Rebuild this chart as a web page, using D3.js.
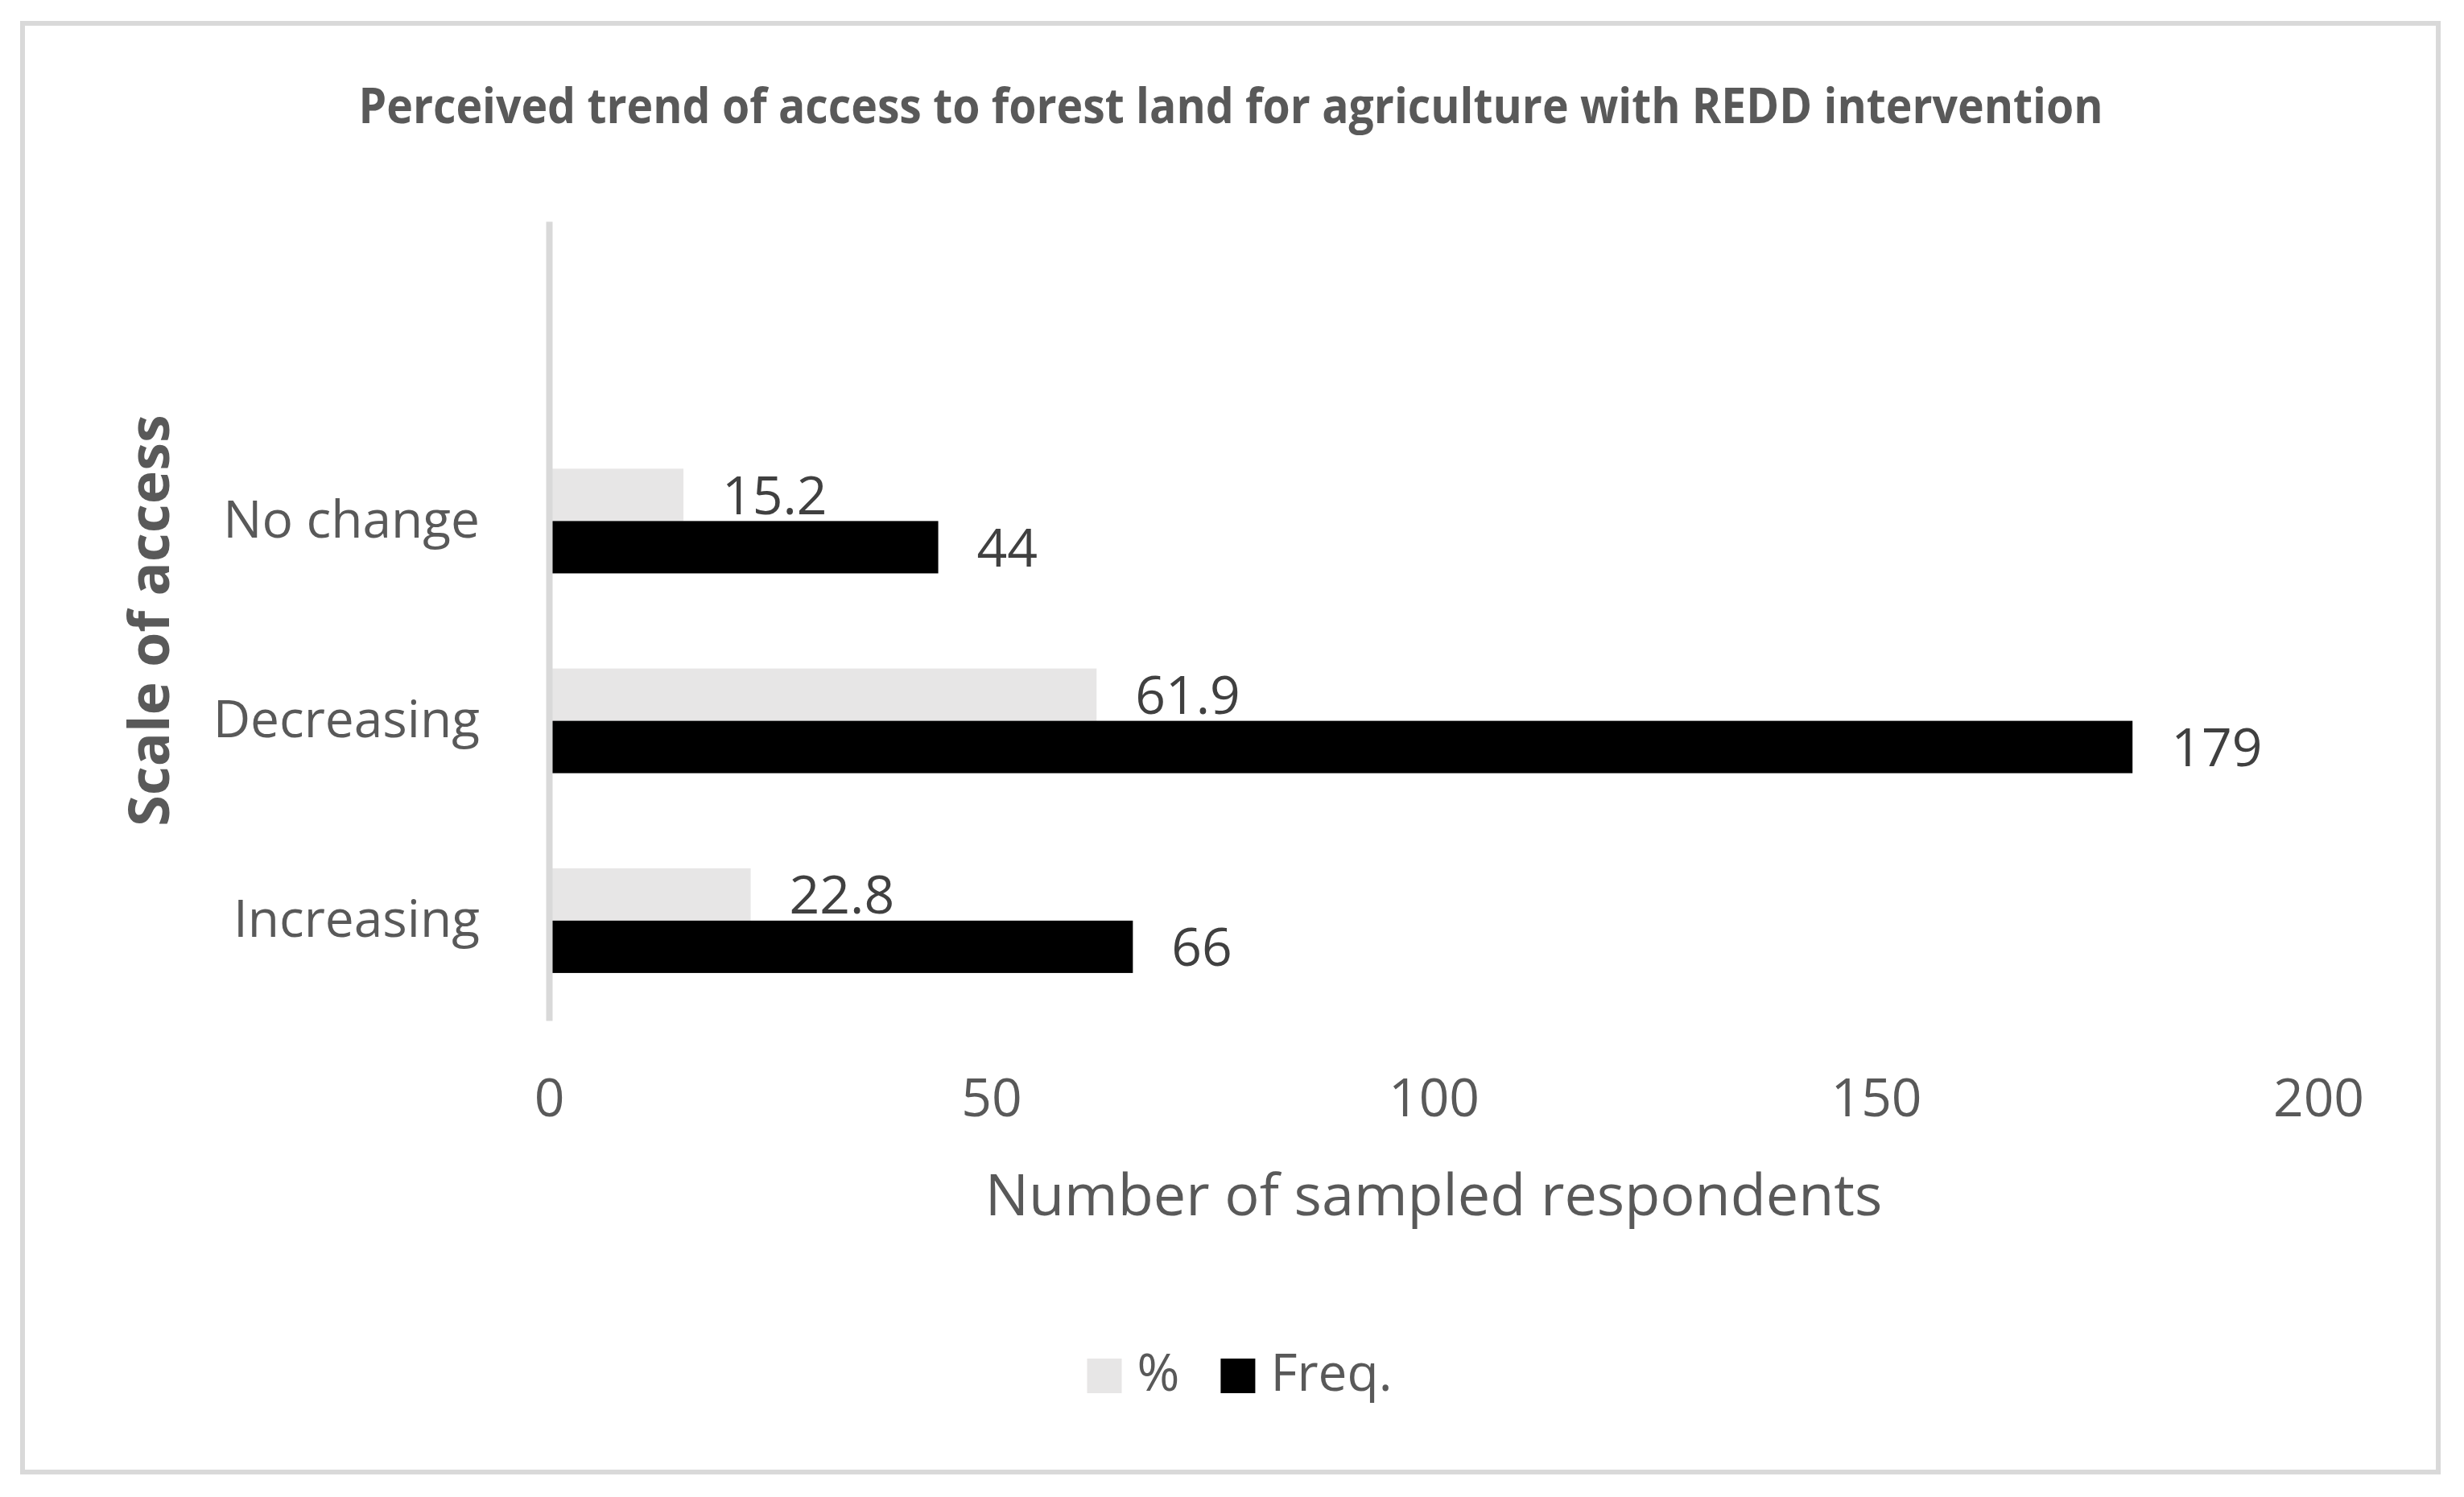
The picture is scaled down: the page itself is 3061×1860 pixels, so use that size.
<!DOCTYPE html>
<html>
<head>
<meta charset="utf-8">
<script src="https://cdn.jsdelivr.net/npm/d3@7"></script>
<style>
  body { margin: 0; background: #fff; }
  text { font-family: "Open Sans", sans-serif; fill: #595959; }
</style>
</head>
<body>
<svg id="chart" width="3061" height="1860"></svg>
<script>
"use strict";

// ==========  Data  ==========
var categories  = ["Increasing", "Decreasing", "No change", ""]   // top slot is empty in the original
var percentVals = [22.8, 61.9, 15.2]
var freqVals    = [66, 179, 44]
var seriesNames = ["%", "Freq."]
var seriesColor = ["#e7e6e6", "#000000"]
var xTicks      = [0, 50, 100, 150, 200]

var title  = "Perceived trend of access to forest land for agriculture with REDD intervention"
var xTitle = "Number of sampled respondents"
var yTitle = "Scale of access"

var rows = percentVals.map(function(p, i) {
  return { cat: categories[i], values: [p, freqVals[i]] }
})

// ==========  Layout  ==========
var svg = d3.select('#chart')

var x = d3.scaleLinear().domain([0, 200]).range([682, 2880])
var y = d3.scaleBand().domain(categories).range([1268, 275])
          .paddingInner(0.476).paddingOuter(0.238)
var ySub = d3.scaleBand().domain(seriesNames).range([0, y.bandwidth()])

// outer frame
svg.append('rect')
   .attr('x', 28).attr('y', 29).attr('width', 3001).attr('height', 1800)
   .attr('fill', 'none').attr('stroke', '#d9d9d9').attr('stroke-width', 6)

// title (the original font is narrower, so squeeze it to its width)
svg.append('text')
   .attr('x', 1529).attr('y', 153)
   .attr('text-anchor', 'middle')
   .attr('font-size', 60).attr('font-weight', 700)
   .attr('textLength', 2167).attr('lengthAdjust', 'spacingAndGlyphs')
   .text(title)

// ==========  Bars  ==========
var groups = svg.append('g').selectAll('g.cat')
  .data(rows).enter().append('g').classed('cat', true)
  .attr('transform', function(d) { return 'translate(0,' + y(d.cat) + ')' })

groups.selectAll('rect')
  .data(function(d) { return d.values })
  .enter().append('rect')
  .attr('x', x(0))
  .attr('y', function(v, i) { return ySub(seriesNames[i]) })
  .attr('width', function(v) { return x(v) - x(0) })
  .attr('height', ySub.bandwidth())
  .attr('fill', function(v, i) { return seriesColor[i] })

groups.selectAll('text')
  .data(function(d) { return d.values })
  .enter().append('text')
  .attr('x', function(v) { return x(v) + 48 })
  .attr('y', function(v, i) { return ySub(seriesNames[i]) + ySub.bandwidth() / 2 })
  .attr('dy', '0.36em')
  .attr('font-size', 66)
  .style('fill', '#404040')
  .text(function(v) { return v })

// ==========  Axes  ==========
var xAxis = svg.append('g')
  .attr('transform', 'translate(0,1268)')
  .call(d3.axisBottom(x).tickValues(xTicks).tickSize(0))
xAxis.select('.domain').remove()
xAxis.selectAll('text')
  .attr('y', 119).attr('dy', null)
  .attr('font-size', 66)
  .style('fill', '#595959')
  .style('font-family', '"Open Sans", sans-serif')

var yAxis = svg.append('g')
  .attr('transform', 'translate(682,0)')
  .call(d3.axisLeft(y).tickSize(0).tickPadding(86))
yAxis.select('.domain').attr('stroke', '#d9d9d9').attr('stroke-width', 8)
yAxis.selectAll('text')
  .attr('font-size', 64)
  .style('fill', '#595959')
  .style('font-family', '"Open Sans", sans-serif')

svg.append('text')
   .attr('x', (x.range()[0] + x.range()[1]) / 2).attr('y', 1510)
   .attr('text-anchor', 'middle')
   .attr('font-size', 72)
   .text(xTitle)

svg.append('text')
   .attr('transform', 'translate(210,771) rotate(-90)')
   .attr('text-anchor', 'middle')
   .attr('font-size', 70).attr('font-weight', 700)
   .text(yTitle)

// ==========  Legend  ==========
var legend = svg.append('g')
var lx = 0
seriesNames.forEach(function(name, i) {
  legend.append('rect')
        .attr('x', lx).attr('y', 1688).attr('width', 43).attr('height', 43)
        .attr('fill', seriesColor[i])
  var t = legend.append('text')
        .attr('x', lx + 62).attr('y', 1728)
        .attr('font-size', 64)
        .text(name)
  lx += 62 + t.node().getComputedTextLength() + 51
})
lx -= 51
legend.attr('transform', 'translate(' + (1540 - lx / 2) + ',0)')
</script>
</body>
</html>
